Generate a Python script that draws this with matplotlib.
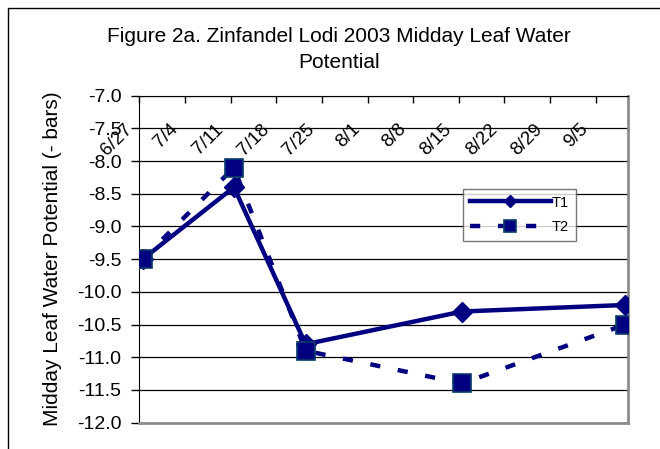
import datetime as dt

import matplotlib.pyplot as plt
from matplotlib.patches import Rectangle
from matplotlib.transforms import offset_copy

plt.rcParams["font.family"] = ["Liberation Sans", "DejaVu Sans"]

# sample dates and readings (bars)
sample_dates = ["2003-06-27", "2003-07-11", "2003-07-22", "2003-08-15", "2003-09-09"]
t1_values = [-9.5, -8.4, -10.8, -10.3, -10.2]
t2_values = [-9.5, -8.1, -10.9, -11.4, -10.5]

tick_dates = ["2003-06-27", "2003-07-04", "2003-07-11", "2003-07-18", "2003-07-25",
              "2003-08-01", "2003-08-08", "2003-08-15", "2003-08-22", "2003-08-29",
              "2003-09-05"]
tick_labels = ["6/27", "7/4", "7/11", "7/18", "7/25", "8/1", "8/8", "8/15",
               "8/22", "8/29", "9/5"]
y_ticks = [-7.0, -7.5, -8.0, -8.5, -9.0, -9.5, -10.0, -10.5, -11.0, -11.5, -12.0]

navy = "#000080"

# excel date axis puts each point in the middle of its day
half_day = dt.timedelta(hours=12)
x = [dt.datetime.fromisoformat(d) + half_day for d in sample_dates]
xt = [dt.datetime.fromisoformat(d) for d in tick_dates]

fig = plt.figure(figsize=(6.6, 4.49), dpi=100)
fig.patches.append(Rectangle((8 / 660, -0.1), 1.2, 1 - 8 / 449 + 0.1,
                             transform=fig.transFigure, fill=False,
                             edgecolor="black", linewidth=1.0))
ax = fig.add_axes([0.2112, 0.0586, 0.952 - 0.2112, 0.7869 - 0.0586])

ax.plot(x, t1_values, color=navy, linewidth=3.2, marker="D", markersize=10,
        markerfacecolor=navy, markeredgecolor=navy, label="T1", zorder=4)
ax.plot(x, t2_values, color=navy, linewidth=3.2, dashes=(2.3, 4.0),
        marker="s", markersize=13, markerfacecolor=navy,
        markeredgecolor="#0a3a6a", markeredgewidth=1.2, label="T2", zorder=5)

ax.set_ylim(-12.0, -7.0)
ax.set_xlim(dt.datetime(2003, 6, 27), dt.datetime(2003, 9, 10))
ax.set_yticks(y_ticks)
ax.set_yticklabels([f"{v:.1f}" for v in y_ticks], fontsize=14)
ax.yaxis.grid(True, color="black", linewidth=0.9)
ax.set_axisbelow(True)
ax.tick_params(axis="y", direction="out", length=6, width=1, pad=7)

ax.xaxis.tick_top()
ax.set_xticks(xt)
ax.set_xticklabels([])
ax.tick_params(axis="x", direction="in", length=5, width=1, top=True, bottom=False)

for d, lab in zip(xt, tick_labels):
    tr = offset_copy(ax.get_xaxis_transform(), fig=fig, x=-10, y=-31, units="dots")
    ax.text(d, 1.0, lab, transform=tr, rotation=45, rotation_mode="anchor",
            ha="right", va="center", fontsize=13.5)

ax.spines["left"].set_color("black")
ax.spines["top"].set_color("black")
for s in ("right", "bottom"):
    ax.spines[s].set_color("#8c8c8c")
    ax.spines[s].set_linewidth(2)

ax.set_ylabel("Midday Leaf Water Potential (- bars)", fontsize=15, labelpad=11)

leg = ax.legend(loc="upper left",
                bbox_to_anchor=((463 - 139.4) / 488.9, 1 - (189 - 95.7) / 327),
                fontsize=10.5, frameon=True, fancybox=False, edgecolor="#555555",
                handlelength=5.6, handletextpad=0.05, borderpad=0.45,
                labelspacing=0.75, borderaxespad=0)
leg.get_frame().set_linewidth(1.0)
leg.legend_handles[0].set_markersize(6)
leg.legend_handles[1].set_markersize(8)

fig.text(339 / 660, 1 - 37 / 449, "Figure 2a. Zinfandel Lodi 2003 Midday Leaf Water",
         ha="center", va="center", fontsize=15)
fig.text(339 / 660, 1 - 62 / 449, "Potential", ha="center", va="center", fontsize=15)

fig.savefig("out.png", dpi=100)
